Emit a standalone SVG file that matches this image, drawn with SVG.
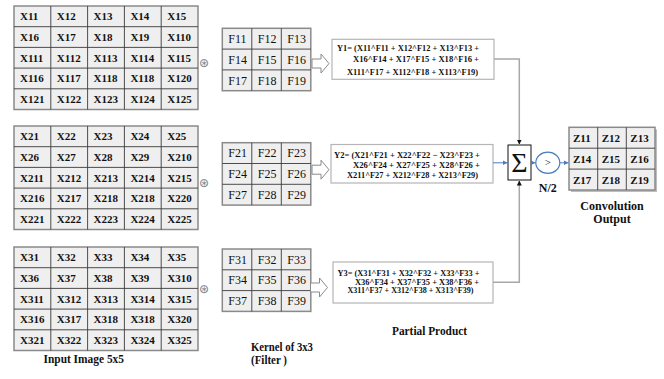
<svg xmlns="http://www.w3.org/2000/svg" xmlns:xlink="http://www.w3.org/1999/xlink" width="664" height="379" viewBox="0 0 664 379">
<style>
  .bg { fill: #ffffff; }
  .gridfill { fill: #efefef; stroke: #8a8a8a; stroke-width: 1.5; }
  .gridline { fill: none; stroke: #3a3a3a; stroke-width: 0.9; }
  .xt { font-family: "Liberation Serif", "Times New Roman", serif; font-weight: bold; font-size: 11px; fill: #111; }
  .ft { font-family: "Liberation Serif", "Times New Roman", serif; font-size: 12px; fill: #111; }
  .yt { font-family: "Liberation Serif", "Times New Roman", serif; font-weight: bold; font-size: 9px; fill: #111; }
  .lbl { font-family: "Liberation Serif", "Times New Roman", serif; font-weight: bold; font-size: 12px; fill: #111; }
  .ybox { fill: #ffffff; stroke: #b5b5b5; stroke-width: 1.2; }
  .harrow { fill: #ffffff; stroke: #8a8a8a; stroke-width: 1; }
  .conv { font-family: "DejaVu Sans", sans-serif; font-size: 12px; fill: #7a7a7a; }
  .gray { fill: none; stroke: #a8a8a8; stroke-width: 1.5; }
  .blue { fill: none; stroke: #4a7ebb; stroke-width: 1; }
</style>
<defs>
  <marker id="ab" markerWidth="6" markerHeight="6" refX="5" refY="3" orient="auto" markerUnits="userSpaceOnUse">
    <path d="M0,0.5 L5,3 L0,5.5 Z" fill="#111"/>
  </marker>
  <marker id="abl" markerWidth="6" markerHeight="6" refX="5" refY="3" orient="auto" markerUnits="userSpaceOnUse">
    <path d="M0,0.5 L5,3 L0,5.5 Z" fill="#4a7ebb"/>
  </marker>
  <g id="xgrid">
    <rect class="gridfill" x="14" y="6" width="184" height="103.5"/>
    <path class="gridline" d="M50.8,6V109.5M87.6,6V109.5M124.4,6V109.5M161.2,6V109.5M14,26.7H198M14,47.4H198M14,68.1H198M14,88.8H198"/>
  </g>
  <g id="kgrid">
    <rect class="gridfill" x="222.3" y="28.3" width="88.5" height="62.4"/>
    <path class="gridline" d="M251.8,28.3V90.7M281.3,28.3V90.7M222.3,49.1H310.8M222.3,69.9H310.8"/>
  </g>
  <path id="hollow" class="harrow" d="M312,-4.5 H321 V-9.5 L329,0 L321,9.5 V4.5 H312 Z"/>
</defs>
<rect class="bg" x="0" y="0" width="664" height="379"/>

<g id="input1">
  <use xlink:href="#xgrid"/>
  <text class="xt" x="20" y="20.3">X11</text><text class="xt" x="56.8" y="20.3">X12</text><text class="xt" x="93.6" y="20.3">X13</text><text class="xt" x="130.4" y="20.3">X14</text><text class="xt" x="167.2" y="20.3">X15</text>
  <text class="xt" x="20" y="41">X16</text><text class="xt" x="56.8" y="41">X17</text><text class="xt" x="93.6" y="41">X18</text><text class="xt" x="130.4" y="41">X19</text><text class="xt" x="167.2" y="41">X110</text>
  <text class="xt" x="20" y="61.7">X111</text><text class="xt" x="56.8" y="61.7">X112</text><text class="xt" x="93.6" y="61.7">X113</text><text class="xt" x="130.4" y="61.7">X114</text><text class="xt" x="167.2" y="61.7">X115</text>
  <text class="xt" x="20" y="82.4">X116</text><text class="xt" x="56.8" y="82.4">X117</text><text class="xt" x="93.6" y="82.4">X118</text><text class="xt" x="130.4" y="82.4">X118</text><text class="xt" x="167.2" y="82.4">X120</text>
  <text class="xt" x="20" y="103.1">X121</text><text class="xt" x="56.8" y="103.1">X122</text><text class="xt" x="93.6" y="103.1">X123</text><text class="xt" x="130.4" y="103.1">X124</text><text class="xt" x="167.2" y="103.1">X125</text>
</g>
<g id="input2">
  <use xlink:href="#xgrid" transform="translate(0,120)"/>
  <text class="xt" x="20" y="140.3">X21</text><text class="xt" x="56.8" y="140.3">X22</text><text class="xt" x="93.6" y="140.3">X23</text><text class="xt" x="130.4" y="140.3">X24</text><text class="xt" x="167.2" y="140.3">X25</text>
  <text class="xt" x="20" y="161">X26</text><text class="xt" x="56.8" y="161">X27</text><text class="xt" x="93.6" y="161">X28</text><text class="xt" x="130.4" y="161">X29</text><text class="xt" x="167.2" y="161">X210</text>
  <text class="xt" x="20" y="181.7">X211</text><text class="xt" x="56.8" y="181.7">X212</text><text class="xt" x="93.6" y="181.7">X213</text><text class="xt" x="130.4" y="181.7">X214</text><text class="xt" x="167.2" y="181.7">X215</text>
  <text class="xt" x="20" y="202.4">X216</text><text class="xt" x="56.8" y="202.4">X217</text><text class="xt" x="93.6" y="202.4">X218</text><text class="xt" x="130.4" y="202.4">X218</text><text class="xt" x="167.2" y="202.4">X220</text>
  <text class="xt" x="20" y="223.1">X221</text><text class="xt" x="56.8" y="223.1">X222</text><text class="xt" x="93.6" y="223.1">X223</text><text class="xt" x="130.4" y="223.1">X224</text><text class="xt" x="167.2" y="223.1">X225</text>
</g>
<g id="input3">
  <use xlink:href="#xgrid" transform="translate(0,241)"/>
  <text class="xt" x="20" y="261.3">X31</text><text class="xt" x="56.8" y="261.3">X32</text><text class="xt" x="93.6" y="261.3">X33</text><text class="xt" x="130.4" y="261.3">X34</text><text class="xt" x="167.2" y="261.3">X35</text>
  <text class="xt" x="20" y="282">X36</text><text class="xt" x="56.8" y="282">X37</text><text class="xt" x="93.6" y="282">X38</text><text class="xt" x="130.4" y="282">X39</text><text class="xt" x="167.2" y="282">X310</text>
  <text class="xt" x="20" y="302.7">X311</text><text class="xt" x="56.8" y="302.7">X312</text><text class="xt" x="93.6" y="302.7">X313</text><text class="xt" x="130.4" y="302.7">X314</text><text class="xt" x="167.2" y="302.7">X315</text>
  <text class="xt" x="20" y="323.4">X316</text><text class="xt" x="56.8" y="323.4">X317</text><text class="xt" x="93.6" y="323.4">X318</text><text class="xt" x="130.4" y="323.4">X318</text><text class="xt" x="167.2" y="323.4">X320</text>
  <text class="xt" x="20" y="344.1">X321</text><text class="xt" x="56.8" y="344.1">X322</text><text class="xt" x="93.6" y="344.1">X323</text><text class="xt" x="130.4" y="344.1">X324</text><text class="xt" x="167.2" y="344.1">X325</text>
</g>

<g id="convops">
  <text class="conv" x="204" y="67" text-anchor="middle">⊛</text>
  <text class="conv" x="204" y="186.5" text-anchor="middle">⊛</text>
  <text class="conv" x="204" y="292.5" text-anchor="middle">⊛</text>
</g>

<g id="kernel1">
  <use xlink:href="#kgrid"/>
  <text class="ft" x="228.3" y="42.9">F11</text><text class="ft" x="257.8" y="42.9">F12</text><text class="ft" x="287.3" y="42.9">F13</text>
  <text class="ft" x="228.3" y="63.7">F14</text><text class="ft" x="257.8" y="63.7">F15</text><text class="ft" x="287.3" y="63.7">F16</text>
  <text class="ft" x="228.3" y="84.5">F17</text><text class="ft" x="257.8" y="84.5">F18</text><text class="ft" x="287.3" y="84.5">F19</text>
</g>
<g id="kernel2">
  <use xlink:href="#kgrid" transform="translate(0,114.4)"/>
  <text class="ft" x="228.3" y="157.3">F21</text><text class="ft" x="257.8" y="157.3">F22</text><text class="ft" x="287.3" y="157.3">F23</text>
  <text class="ft" x="228.3" y="178.1">F24</text><text class="ft" x="257.8" y="178.1">F25</text><text class="ft" x="287.3" y="178.1">F26</text>
  <text class="ft" x="228.3" y="198.9">F27</text><text class="ft" x="257.8" y="198.9">F28</text><text class="ft" x="287.3" y="198.9">F29</text>
</g>
<g id="kernel3">
  <use xlink:href="#kgrid" transform="translate(0,220.7)"/>
  <text class="ft" x="228.3" y="263.5">F31</text><text class="ft" x="257.8" y="263.5">F32</text><text class="ft" x="287.3" y="263.5">F33</text>
  <text class="ft" x="228.3" y="284.3">F34</text><text class="ft" x="257.8" y="284.3">F35</text><text class="ft" x="287.3" y="284.3">F36</text>
  <text class="ft" x="228.3" y="305.1">F37</text><text class="ft" x="257.8" y="305.1">F38</text><text class="ft" x="287.3" y="305.1">F39</text>
</g>

<g id="arrow1"><use xlink:href="#hollow" transform="translate(0,63.5)"/></g>
<g id="arrow2"><use xlink:href="#hollow" transform="translate(0,169.7)"/></g>
<g id="arrow3"><use xlink:href="#hollow" transform="translate(-1.5,287.5)"/></g>

<g id="y1">
  <rect class="ybox" x="332" y="39.3" width="162" height="40"/>
  <text class="yt" x="337" y="50.5" textLength="142" lengthAdjust="spacingAndGlyphs">Y1= (X11^F11 + X12^F12 + X13^F13 +</text>
  <text class="yt" x="353" y="62.3" textLength="126" lengthAdjust="spacingAndGlyphs">X16^F14 + X17^F15 +  X18^F16 +</text>
  <text class="yt" x="347" y="74.5" textLength="131" lengthAdjust="spacingAndGlyphs">X111^F17 + X112^F18 + X113^F19)</text>
</g>
<g id="y2">
  <rect class="ybox" x="331" y="144.5" width="162" height="38.5"/>
  <text class="yt" x="334" y="157.5" textLength="146" lengthAdjust="spacingAndGlyphs">Y2= (X21^F21 + X22^F22 − X23^F23 +</text>
  <text class="yt" x="353" y="167.5" textLength="127" lengthAdjust="spacingAndGlyphs">X26^F24 + X27^F25 +  X28^F26 +</text>
  <text class="yt" x="347" y="177.5" textLength="131" lengthAdjust="spacingAndGlyphs">X211^F27 + X212^F28 + X213^F29)</text>
</g>
<g id="y3">
  <rect class="ybox" x="333" y="262" width="160" height="41"/>
  <text class="yt" x="337.5" y="276" font-size="8" textLength="142" lengthAdjust="spacingAndGlyphs">Y3= (X31^F31 + X32^F32 + X33^F33 +</text>
  <text class="yt" x="355" y="284.7" font-size="8" textLength="124" lengthAdjust="spacingAndGlyphs">X36^F34 + X37^F35 + X38^F36 +</text>
  <text class="yt" x="347.5" y="293.4" font-size="8" textLength="126" lengthAdjust="spacingAndGlyphs">X311^F37 + X312^F38 + X313^F39)</text>
</g>

<g id="sum">
  <rect x="508" y="145" width="23" height="35" fill="#ffffff" stroke="#111" stroke-width="1"/>
  <text x="519.5" y="172" text-anchor="middle" font-family="Liberation Serif, serif" font-size="28" fill="#111">Σ</text>
</g>
<g id="threshold">
  <ellipse cx="547.8" cy="162.8" rx="12" ry="10.6" fill="#ffffff" stroke="#4a7ebb" stroke-width="1.2"/>
  <text x="547.8" y="166.3" text-anchor="middle" font-family="Liberation Serif, serif" font-size="11" fill="#111">&gt;</text>
  <text class="lbl" x="547.8" y="191.5" text-anchor="middle" font-size="11">N/2</text>
</g>

<g id="output">
  <rect x="571" y="129.3" width="86" height="62.7" fill="#bdbdbd"/>
  <rect class="gridfill" x="569" y="127.3" width="86" height="62.7"/>
  <path class="gridline" d="M597.7,127.3V190M626.3,127.3V190M569,148.2H655M569,169.1H655"/>
  <text class="xt" x="573" y="141.7">Z11</text><text class="xt" x="601.7" y="141.7">Z12</text><text class="xt" x="630.3" y="141.7">Z13</text>
  <text class="xt" x="573" y="162.6">Z14</text><text class="xt" x="601.7" y="162.6">Z15</text><text class="xt" x="630.3" y="162.6">Z16</text>
  <text class="xt" x="573" y="183.5">Z17</text><text class="xt" x="601.7" y="183.5">Z18</text><text class="xt" x="630.3" y="183.5">Z19</text>
  <text class="lbl" x="612" y="209.5" text-anchor="middle" font-size="11">Convolution</text>
  <text class="lbl" x="612" y="223" text-anchor="middle" font-size="11">Output</text>
</g>

<g id="connectors">
  <polyline class="gray" points="494,59 519.3,59 519.3,144.5" marker-end="url(#ab)"/>
  <polyline class="gray" points="493,282.3 519.3,282.3 519.3,180.5" marker-end="url(#ab)"/>
  <line class="blue" x1="493" y1="162.8" x2="507.5" y2="162.8" marker-end="url(#abl)"/>
  <line class="blue" x1="531" y1="162.8" x2="535.5" y2="162.8" marker-end="url(#abl)"/>
  <line class="blue" x1="559.8" y1="162.8" x2="568.5" y2="162.8" marker-end="url(#abl)"/>
</g>

<g id="labels">
  <text class="lbl" x="43.5" y="362.5" textLength="80.5" lengthAdjust="spacingAndGlyphs">Input Image 5x5</text>
  <text class="lbl" x="392" y="334.5" textLength="75" lengthAdjust="spacingAndGlyphs">Partial Product</text>
  <text class="lbl" x="251" y="350.5" textLength="62" lengthAdjust="spacingAndGlyphs">Kernel of 3x3</text>
  <text class="lbl" x="251" y="364" textLength="36" lengthAdjust="spacingAndGlyphs">(Filter )</text>
</g>
</svg>
